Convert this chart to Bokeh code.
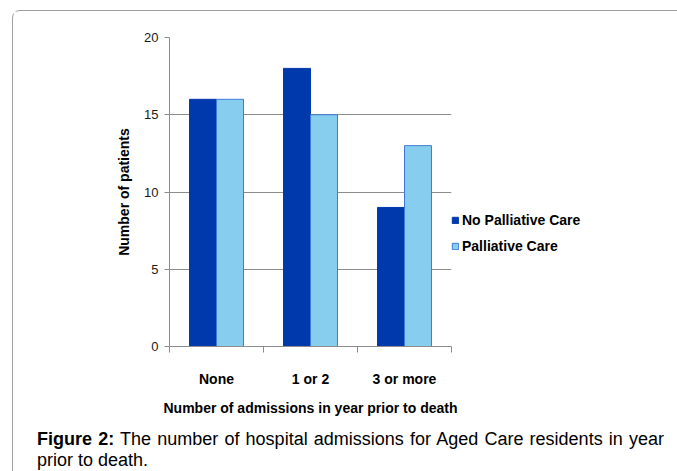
from bokeh.plotting import figure
from bokeh.layouts import column
from bokeh.models import Range1d, FixedTicker, Legend, LegendItem, Div
from bokeh.embed import file_html
from bokeh.resources import INLINE

# ---- data ----
categories = ["None", "1 or 2", "3 or more"]
no_palliative = [16, 18, 9]
palliative = [16, 15, 13]
y_ticks = [0, 5, 10, 15, 20]
series_names = ["No Palliative Care", "Palliative Care"]
x_title = "Number of admissions in year prior to death"
y_title = "Number of patients"
caption_bold = "Figure 2:"
caption_text = ("The number of hospital admissions for Aged Care residents "
                "in year prior to death.")

DARK = "#0039AC"
LIGHT = "#87CEEE"
LIGHT_EDGE = "#3F7AD6"
GRID = "#8C8C8C"
FONT = "Liberation Sans"

W = 664
H2 = 50

p = figure(frame_width=282, frame_height=309, output_backend="svg",
           toolbar_location=None,
           x_range=Range1d(0, len(categories)), y_range=Range1d(0, 20),
           min_border_left=156, min_border_right=226, min_border_top=26,
           min_border_bottom=74)
p.outline_line_color = None
p.background_fill_color = "white"
p.border_fill_color = "white"

centers = [i + 0.5 for i in range(len(categories))]
bw = 0.287
x_dark = [c - bw / 2 for c in centers]
x_light = [c + bw / 2 for c in centers]

r1 = p.vbar(x=x_dark, top=no_palliative, width=bw, bottom=0,
            fill_color=DARK, line_color=DARK, line_width=1)
r2 = p.vbar(x=x_light, top=palliative, width=bw, bottom=0,
            fill_color=LIGHT, line_color=LIGHT_EDGE, line_width=1)

# y axis
p.yaxis.ticker = FixedTicker(ticks=y_ticks)
p.yaxis.minor_tick_line_color = None
p.yaxis.major_tick_out = 5
p.yaxis.major_tick_in = 0
p.yaxis.major_label_standoff = 6
p.yaxis.axis_line_color = GRID
p.yaxis.major_tick_line_color = GRID
p.yaxis.major_label_text_font = FONT
p.yaxis.major_label_text_font_size = "13px"
p.yaxis.major_label_text_color = "#1a1a1a"
p.yaxis.axis_label = y_title
p.yaxis.axis_label_text_font = FONT
p.yaxis.axis_label_text_font_size = "14px"
p.yaxis.axis_label_text_font_style = "bold"
p.yaxis.axis_label_text_color = "black"
p.yaxis.axis_label_standoff = 9

# x axis: labels at category centres, minor ticks at boundaries
p.xaxis.ticker = FixedTicker(ticks=centers,
                             minor_ticks=list(range(len(categories) + 1)))
p.xaxis.major_label_overrides = {c: lab for c, lab in zip(centers, categories)}
p.xaxis.major_tick_out = 0
p.xaxis.major_tick_in = 0
p.xaxis.major_tick_line_color = None
p.xaxis.minor_tick_out = 6
p.xaxis.minor_tick_in = 0
p.xaxis.minor_tick_line_color = GRID
p.xaxis.axis_line_color = GRID
p.xaxis.major_label_standoff = 18
p.xaxis.major_label_text_font = FONT
p.xaxis.major_label_text_font_size = "14px"
p.xaxis.major_label_text_font_style = "bold"
p.xaxis.major_label_text_color = "black"
p.xaxis.axis_label = x_title
p.xaxis.axis_label_text_font = FONT
p.xaxis.axis_label_text_font_size = "14px"
p.xaxis.axis_label_text_font_style = "bold"
p.xaxis.axis_label_text_color = "black"
p.xaxis.axis_label_standoff = 10

p.xgrid.grid_line_color = None
p.ygrid.ticker = FixedTicker(ticks=y_ticks)
p.ygrid.grid_line_color = GRID
p.ygrid.grid_line_width = 1

legend = Legend(items=[LegendItem(label=series_names[0], renderers=[r1]),
                       LegendItem(label=series_names[1], renderers=[r2])],
                location=(0, 92), orientation="vertical",
                glyph_width=8, glyph_height=8, label_standoff=3,
                label_height=16, spacing=10, padding=0, margin=0,
                border_line_color=None, background_fill_alpha=0,
                label_text_font=FONT, label_text_font_size="14px",
                label_text_font_style="bold", label_text_color="black")
p.add_layout(legend, "right")

caption = Div(width=W, height=H2,
              text=(f'<div style="margin:4px 0 0 19px; width:627px; '
                    f'font-family:\'{FONT}\'; font-size:18px; line-height:21px; '
                    f'text-align:justify; color:black;">'
                    f'<b>{caption_bold}</b> {caption_text}</div>'))

layout = column(p, caption, spacing=0,
                styles={"margin-left": "12px", "margin-top": "10px",
                        "border-left": "1px solid #A0A0A0",
                        "border-top": "1px solid #A0A0A0",
                        "border-top-left-radius": "8px"})

open("out.html", "w").write(file_html(layout, INLINE))
